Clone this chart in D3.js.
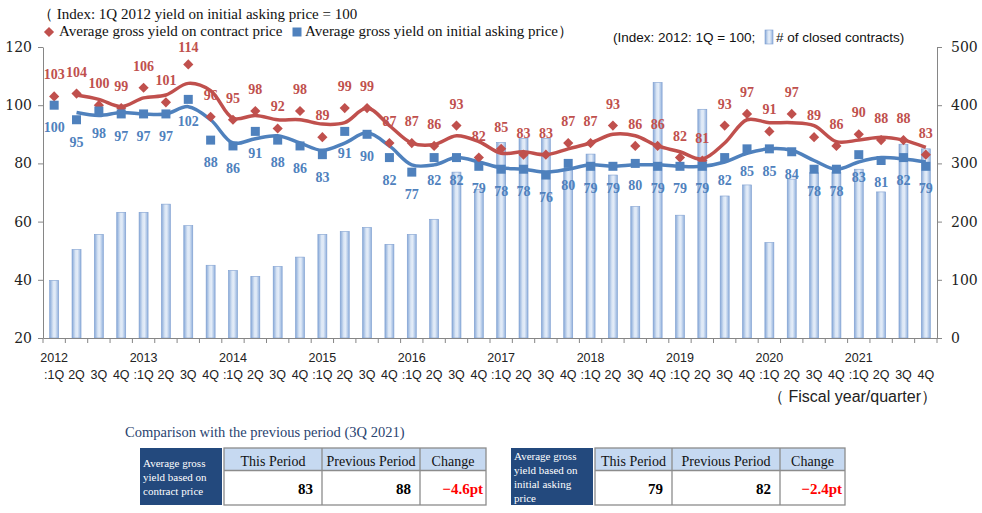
<!DOCTYPE html>
<html><head><meta charset="utf-8">
<script src="https://cdn.jsdelivr.net/npm/d3@7"></script>
<style>
html,body{margin:0;padding:0;background:#fff;}
svg{display:block;}
</style></head>
<body><svg id="c" width="982" height="513"></svg>
<script>
// ---- data ----
const years = ["2012","2013","2014","2015","2016","2017","2018","2019","2020","2021"];
const quarters = [":1Q","2Q","3Q","4Q"];
const contractYield = [103,104,100,99, 106,101,114,96, 95,98,92,98, 89,99,99,87, 87,86,93,82,
                       85,83,83,87, 87,93,86,86, 82,81,93,97, 91,97,89,86, 90,88,88,83];
const askingYield   = [100,95,98,97, 97,97,102,88, 86,91,88,86, 83,91,90,82, 77,82,82,79,
                       78,78,76,80, 79,79,80,79, 79,79,82,85, 85,84,78,78, 83,81,82,79];
const closedContracts = [99,152,178,216, 216,230,193,125, 116,106,123,139, 178,183,190,161, 178,204,285,255,
                         336,343,343,290, 316,280,226,439, 211,393,244,263, 164,273,284,285, 290,251,333,325];
const leftTicks = [20,40,60,80,100,120];
const rightTicks = [0,100,200,300,400,500];
const tableHeaders = ["This Period","Previous Period","Change"];
const contractRow = ["83","88","\u22124.6pt"];
const askingRow = ["79","82","\u22122.4pt"];
const contractRowLabel = ["Average gross","yield based on","contract price"];
const askingRowLabel = ["Average gross","yield based on","initial asking","price"];

// ---- setup ----
const RED = "#C0504D", BLUE = "#4F81BD", AX = "#868686";
const svg = d3.select("#c");
const cats = d3.range(contractYield.length);
const x = d3.scaleBand().domain(cats).range([43, 937]);
const yL = d3.scaleLinear().domain([20,120]).range([338,47]);
const yR = d3.scaleLinear().domain([0,500]).range([338,47]);
const cx = i => x(i) + x.bandwidth()/2;

const defs = svg.append("defs");
const g1 = defs.append("linearGradient").attr("id","barg").attr("x1","0").attr("x2","1").attr("y1","0").attr("y2","0");
g1.append("stop").attr("offset","0").attr("stop-color","#86A8D8");
g1.append("stop").attr("offset","0.4").attr("stop-color","#DCE7F5");
g1.append("stop").attr("offset","0.6").attr("stop-color","#E3ECF8");
g1.append("stop").attr("offset","1").attr("stop-color","#8FAFDC");

// bars
svg.append("g").selectAll("rect").data(closedContracts).join("rect")
  .attr("x",(d,i)=>cx(i)-4.5).attr("width",9)
  .attr("y",d=>yR(d)).attr("height",d=>yR(0)-yR(d))
  .attr("fill","url(#barg)").attr("stroke","#7F9FD0").attr("stroke-width",0.6);

// left axis
const la = svg.append("g").attr("transform","translate(43,0)")
  .call(d3.axisLeft(yL).tickValues(leftTicks).tickSize(5).tickSizeOuter(0).tickPadding(6));
la.select(".domain").attr("stroke",AX);
la.selectAll(".tick line").attr("stroke",AX);
la.selectAll("text").attr("font-family","DejaVu Serif").attr("font-size",14).attr("fill","#222");

// right axis
const ra = svg.append("g").attr("transform","translate(937,0)")
  .call(d3.axisRight(yR).tickValues(rightTicks).tickSize(5).tickSizeOuter(0).tickPadding(9));
ra.select(".domain").attr("stroke",AX);
ra.selectAll(".tick line").attr("stroke",AX);
ra.selectAll("text").attr("font-family","DejaVu Serif").attr("font-size",14).attr("fill","#222");

// bottom axis
const ba = svg.append("g").attr("transform","translate(0,338)")
  .call(d3.axisBottom(x).tickValues([]).tickSizeOuter(0));
ba.select(".domain").attr("stroke",AX);
const bounds = cats.map(i=>x(i)).concat([x.range()[1]]);
svg.append("g").selectAll("line").data(bounds).join("line")
  .attr("x1",d=>d).attr("x2",d=>d).attr("y1",338).attr("y2",343).attr("stroke",AX);
svg.append("g").selectAll("text").data(cats).join("text")
  .attr("x",i=>cx(i)).attr("y",379).attr("text-anchor","middle")
  .attr("font-family","Liberation Sans").attr("font-size",12.5).attr("fill","#222")
  .text(i=>quarters[i%4]);
svg.append("g").selectAll("text").data(years).join("text")
  .attr("x",(d,k)=>cx(k*4)).attr("y",362).attr("text-anchor","middle")
  .attr("font-family","Liberation Sans").attr("font-size",12.5).attr("fill","#222")
  .text(d=>d);
svg.append("text").attr("x",937).attr("y",402).attr("text-anchor","end")
  .attr("font-family","Liberation Sans").attr("font-size",16).attr("fill","#222")
  .text("\uFF08 Fiscal year/quarter\uFF09");

// moving-average lines (2 quarters)
const ma = arr => cats.slice(1).map(i=>({i, v:(arr[i-1]+arr[i])/2}));
const line = axisY => d3.line().x(d=>cx(d.i)).y(d=>axisY(d.v)).curve(d3.curveCatmullRom.alpha(0.5));
svg.append("path").datum(ma(contractYield)).attr("d",line(yL)).attr("fill","none")
  .attr("stroke",RED).attr("stroke-width",3.5).attr("stroke-linejoin","round");
svg.append("path").datum(ma(askingYield)).attr("d",line(yL)).attr("fill","none")
  .attr("stroke",BLUE).attr("stroke-width",3.5).attr("stroke-linejoin","round");

// markers
const diamond = d3.symbol().type(d3.symbolSquare).size(52);
const square = d3.symbol().type(d3.symbolSquare).size(81);
svg.append("g").selectAll("path").data(contractYield).join("path")
  .attr("d",diamond).attr("fill",RED)
  .attr("transform",(d,i)=>`translate(${cx(i)},${yL(d)}) rotate(45)`);
svg.append("g").selectAll("path").data(askingYield).join("path")
  .attr("d",square).attr("fill",BLUE)
  .attr("transform",(d,i)=>`translate(${cx(i)},${yL(d)})`);

// data labels
svg.append("g").selectAll("text").data(contractYield).join("text")
  .attr("x",(d,i)=>cx(i)).attr("y",d=>Math.max(yL(d)-17, 52)).attr("text-anchor","middle")
  .attr("font-family","Liberation Serif").attr("font-weight","bold").attr("font-size",14)
  .attr("fill",RED).text(d=>d);
svg.append("g").selectAll("text").data(askingYield).join("text")
  .attr("x",(d,i)=>cx(i)).attr("y",d=>yL(d)+27).attr("text-anchor","middle")
  .attr("font-family","Liberation Serif").attr("font-weight","bold").attr("font-size",14)
  .attr("fill",BLUE).text(d=>d);

// titles & legend
svg.append("text").attr("x",38).attr("y",19).attr("font-family","Liberation Serif").attr("font-size",15)
  .attr("fill","#111").text("\uFF08 Index: 1Q 2012 yield on initial asking price = 100");
svg.append("path").attr("d",diamond).attr("fill",RED).attr("transform","translate(49,32) rotate(45)");
svg.append("text").attr("x",59).attr("y",36).attr("font-family","Liberation Serif").attr("font-size",15)
  .attr("fill","#111").text("Average gross yield on contract price");
svg.append("path").attr("d",square).attr("fill",BLUE).attr("transform","translate(297,32)");
svg.append("text").attr("x",305).attr("y",36).attr("font-family","Liberation Serif").attr("font-size",15)
  .attr("fill","#111").text("Average gross yield on initial asking price\uFF09");
svg.append("text").attr("x",613).attr("y",42).attr("font-family","Liberation Sans").attr("font-size",13.5)
  .attr("fill","#111").text("(Index: 2012: 1Q = 100;");
svg.append("rect").attr("x",765).attr("y",30).attr("width",8).attr("height",14)
  .attr("fill","url(#barg)").attr("stroke","#7F9FD0").attr("stroke-width",0.6);
svg.append("text").attr("x",776).attr("y",42).attr("font-family","Liberation Sans").attr("font-size",13.5)
  .attr("fill","#111").text("# of closed contracts)");

// ---- comparison tables ----
svg.append("text").attr("x",125).attr("y",437).attr("font-family","Liberation Serif").attr("font-size",14.5)
  .attr("fill","#2A4470").text("Comparison with the previous period (3Q 2021)");

function table(x0, labelW, cols, rowLabel, row) {
  const top = 448, mid = 470.5, bot = 505;
  const t = svg.append("g");
  t.append("rect").attr("x",x0).attr("y",top).attr("width",labelW).attr("height",bot-top).attr("fill","#23497D");
  t.selectAll("text.lab").data(rowLabel).join("text").attr("class","lab")
    .attr("x",x0+3).attr("y",(d,k)=> (rowLabel.length===3? 467: 460) + k*14)
    .attr("font-family","Liberation Serif").attr("font-size",11).attr("fill","#fff").text(d=>d);
  const tx = x0 + labelW + 2;
  let xs = [tx]; cols.forEach(w=>xs.push(xs[xs.length-1]+w));
  t.append("rect").attr("x",tx).attr("y",top).attr("width",xs[3]-tx).attr("height",mid-top).attr("fill","#C6D9F1");
  t.append("rect").attr("x",tx).attr("y",top).attr("width",xs[3]-tx).attr("height",bot-top)
    .attr("fill","none").attr("stroke","#8C8C8C").attr("stroke-width",1.3);
  t.append("line").attr("x1",tx).attr("x2",xs[3]).attr("y1",mid).attr("y2",mid).attr("stroke","#8C8C8C").attr("stroke-width",1.3);
  [1,2].forEach(k=>t.append("line").attr("x1",xs[k]).attr("x2",xs[k]).attr("y1",top).attr("y2",bot)
    .attr("stroke","#8C8C8C").attr("stroke-width",1.3));
  t.selectAll("text.h").data(tableHeaders).join("text").attr("class","h")
    .attr("x",(d,k)=>(xs[k]+xs[k+1])/2).attr("y",466).attr("text-anchor","middle")
    .attr("font-family","Liberation Serif").attr("font-size",14).attr("fill","#111").text(d=>d);
  t.selectAll("text.v").data(row).join("text").attr("class","v")
    .attr("x",(d,k)=>xs[k+1]-(k===2?3:9)).attr("y",494).attr("text-anchor","end")
    .attr("font-family","Liberation Serif").attr("font-weight","bold").attr("font-size",15)
    .attr("fill",(d,k)=>k===2?"#FF0000":"#000").text(d=>d);
}
table(140, 82, [98, 98, 66], contractRowLabel, contractRow);
table(511, 82, [77, 108, 65], askingRowLabel, askingRow);
</script></body></html>
